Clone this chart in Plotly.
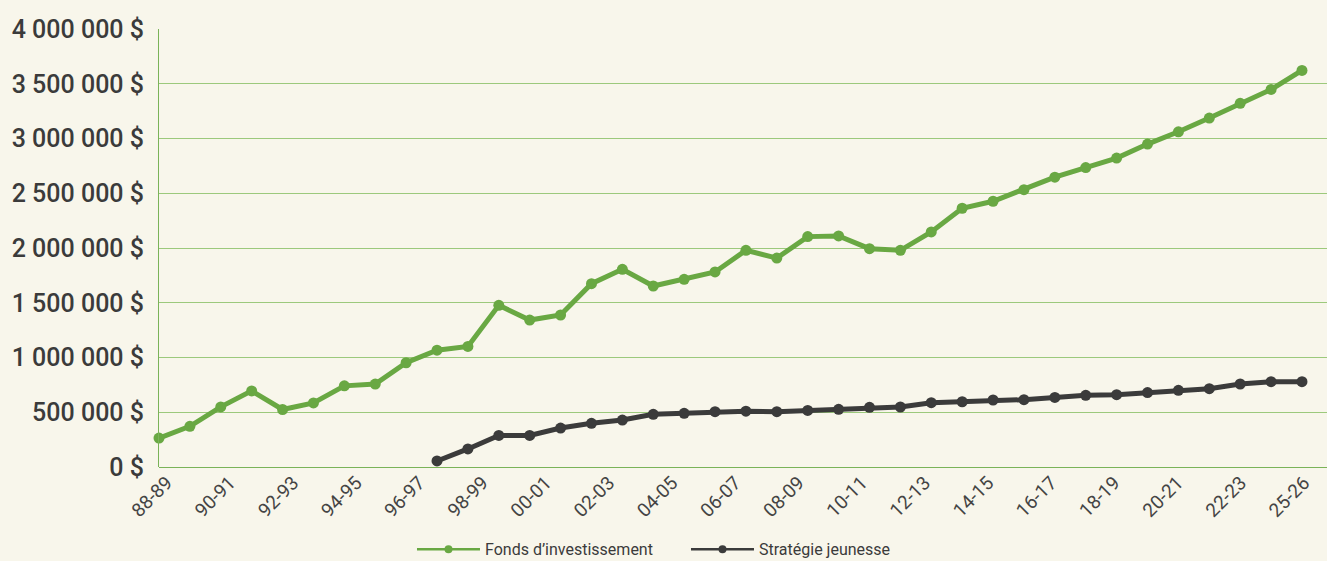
import plotly.graph_objects as go

# Categories (fiscal years, one per point)
years = ["88-89", "89-90", "90-91", "91-92", "92-93", "93-94", "94-95", "95-96",
         "96-97", "97-98", "98-99", "99-00", "00-01", "01-02", "02-03", "03-04",
         "04-05", "05-06", "06-07", "07-08", "08-09", "09-10", "10-11", "11-12",
         "12-13", "13-14", "14-15", "15-16", "16-17", "17-18", "18-19", "19-20",
         "20-21", "21-22", "22-23", "23-24", "24-25", "25-26"]

# Axis tick labels as printed in the chart
tick_labels = ["88-89", "90-91", "92-93", "94-95", "96-97", "98-99", "00-01",
               "02-03", "04-05", "06-07", "08-09", "10-11", "12-13", "14-15",
               "16-17", "18-19", "20-21", "22-23", "25-26"]

fonds = [264000, 372000, 549000, 695000, 525000, 585000, 741000, 757000,
         952000, 1067000, 1101000, 1477000, 1342000, 1388000, 1674000, 1805000,
         1653000, 1714000, 1781000, 1979000, 1908000, 2104000, 2110000, 1994000,
         1979000, 2147000, 2363000, 2427000, 2533000, 2647000, 2735000, 2821000,
         2949000, 3061000, 3187000, 3321000, 3448000, 3622000]

jeunesse = [None, None, None, None, None, None, None, None, None,
            55000, 165000, 288000, 288000, 356000, 399000, 429000, 481000,
            490000, 505000, 510000, 505000, 517000, 527000, 545000, 548000,
            587000, 596000, 612000, 615000, 635000, 655000, 660000, 680000,
            700000, 715000, 758000, 779000, 779000]

series_names = ["Fonds d\u2019investissement", "Strat\u00e9gie jeunesse"]

GREEN = "#69a843"
DARK = "#3b3b3b"
BG = "#f8f6eb"

n = len(years)
xs = list(range(n))
m = len(tick_labels)
tickvals = [0.25 + k * (n - 1) / (m - 1) * 0.995 for k in range(m)]

fig = go.Figure()
for vals, name, col in [(fonds, series_names[0], GREEN), (jeunesse, series_names[1], DARK)]:
    fig.add_trace(go.Scatter(
        x=xs, y=vals, name=name, mode="lines+markers", showlegend=False,
        line=dict(color=col, width=5), marker=dict(color=col, size=11),
        cliponaxis=False, customdata=years,
    ))
# legend entries (thinner sample lines, as in the original legend)
for name, col in [(series_names[0], GREEN), (series_names[1], DARK)]:
    fig.add_trace(go.Scatter(
        x=[None], y=[None], name=name, mode="lines+markers",
        line=dict(color=col, width=2.5), marker=dict(color=col, size=8),
    ))

fig.update_layout(
    width=1327, height=561,
    paper_bgcolor=BG, plot_bgcolor=BG,
    margin=dict(l=159, r=0, t=29, b=94, autoexpand=False),
    separators=", ",
    font=dict(family="Roboto, Arial, sans-serif", color=DARK),
    showlegend=True,
    legend=dict(
        orientation="h", x=0.2166, xanchor="left", y=-0.188, yanchor="middle",
        font=dict(size=16, color=DARK), itemwidth=63, bgcolor="rgba(0,0,0,0)",
        traceorder="normal", entrywidth=196, entrywidthmode="pixels",
    ),
    xaxis=dict(
        range=[0, 37.81], tickmode="array", tickvals=tickvals, ticktext=tick_labels,
        tickangle=-45, tickfont=dict(size=19, color="#444444"),
        showgrid=False, zeroline=False, showline=False, ticks="",
        automargin=False,
    ),
    yaxis=dict(
        range=[0, 4000000], dtick=500000, tickformat=",d", ticksuffix=" $",
        tickfont=dict(size=25, color=DARK, weight=500),
        showgrid=True, gridcolor="#9cc97c", gridwidth=1,
        zeroline=True, zerolinecolor="#7ab358", zerolinewidth=1,
        showline=True, linecolor="#7ab358", linewidth=1, ticks="",
        ticklabelstandoff=9, automargin=False,
    ),
)

fig.write_html(
    "out.html",
    config={"displayModeBar": False},
    post_script="document.body.style.margin='0';document.body.style.background='%s';" % BG,
)
